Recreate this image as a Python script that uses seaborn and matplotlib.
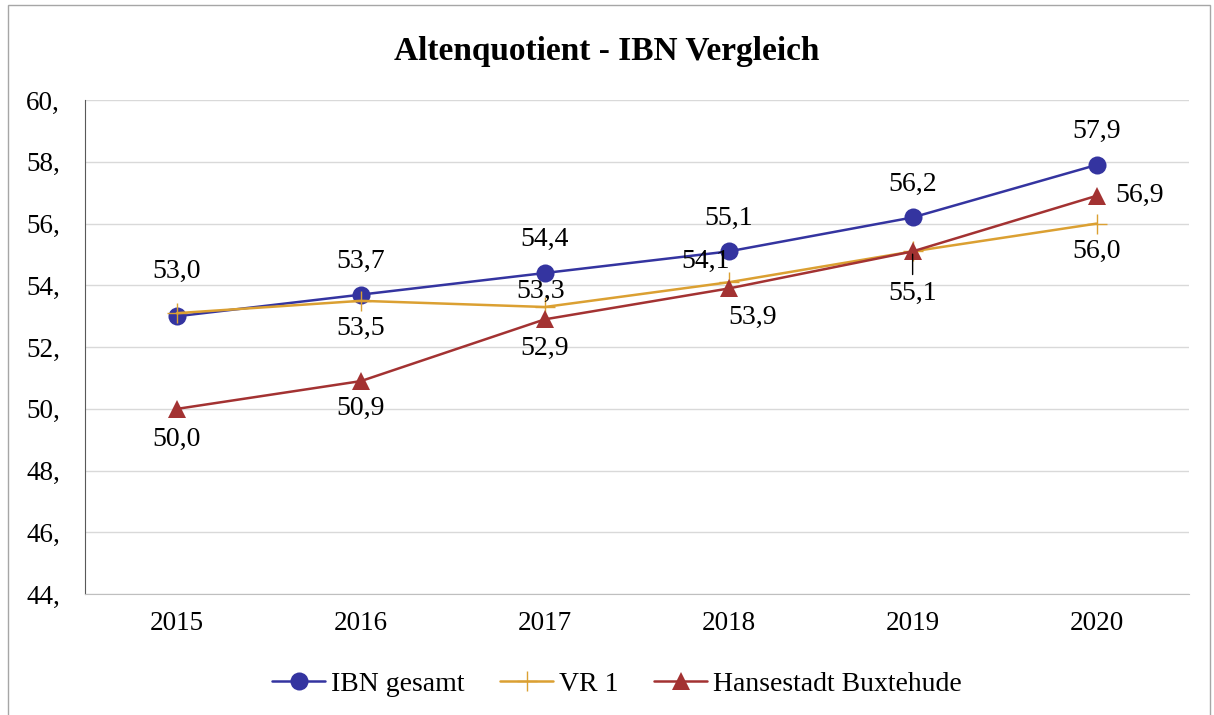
import pandas as pd
import numpy as np
import matplotlib.pyplot as plt
import seaborn as sns
from matplotlib.ticker import FuncFormatter, MultipleLocator
from matplotlib.patches import Rectangle

# ---------------- Data ----------------
years = [2015, 2016, 2017, 2018, 2019, 2020]
ibn_gesamt = [53.0, 53.7, 54.4, 55.1, 56.2, 57.9]
vr_1 = [53.1, 53.5, 53.3, 54.1, 55.1, 56.0]
buxtehude = [50.0, 50.9, 52.9, 53.9, 55.1, 56.9]
series_names = ["IBN gesamt", "VR 1", "Hansestadt Buxtehude"]

colors = {"IBN gesamt": "#3434a0", "VR 1": "#dba032", "Hansestadt Buxtehude": "#a33232"}
markers = {"IBN gesamt": "o", "VR 1": "+", "Hansestadt Buxtehude": "^"}

# label offsets (points) per series, None = label hidden
offsets = {
    "IBN gesamt": [(0, 32), (0, 24), (0, 24), (0, 24), (0, 24), (0, 24)],
    "VR 1": [None, (0, -20), (-3, 11), (-17, 15), None, (0, -20)],
    "Hansestadt Buxtehude": [(0, -22), (0, -20), (0, -21), (17, -21), (0, -30), (31, 0)],
}

# ---------------- Plot ----------------
sns.set_style("white")
plt.rcParams["font.family"] = ["Liberation Serif", "DejaVu Serif"]
plt.rcParams["text.color"] = "black"
plt.rcParams["xtick.color"] = "black"
plt.rcParams["ytick.color"] = "black"

fig = plt.figure(figsize=(12.14, 7.15), dpi=100)
ax = fig.add_axes([0.070, 0.169, 0.909, 0.691])

for name, vals in zip(series_names, [ibn_gesamt, vr_1, buxtehude]):
    df = pd.DataFrame({"Jahr": years, "Wert": vals})
    if markers[name] == "+":
        sns.lineplot(data=df, x="Jahr", y="Wert", color=colors[name], marker="+",
                     markersize=15, markeredgewidth=1.0, markeredgecolor=colors[name],
                     linewidth=1.8, label=name, ax=ax)
    else:
        sns.lineplot(data=df, x="Jahr", y="Wert", color=colors[name], marker=markers[name],
                     markersize=13, markeredgewidth=0, linewidth=1.8, label=name, ax=ax)

    for x, v, off in zip(years, vals, offsets[name]):
        if off is None:
            continue
        label = f"{v:.1f}".replace(".", ",")
        if name == "Hansestadt Buxtehude" and x == 2019:
            ax.annotate(label, (x, v), xytext=off, textcoords="offset points",
                        ha="center", va="center", fontsize=20,
                        arrowprops=dict(arrowstyle="-", color="black", lw=1,
                                        shrinkA=2, shrinkB=2))
        else:
            ax.annotate(label, (x, v), xytext=off, textcoords="offset points",
                        ha="center", va="center", fontsize=20)

ax.set_xlim(2014.5, 2020.5)
ax.set_ylim(44, 60)
ax.set_xticks(years)
ax.set_xticklabels([str(y) for y in years])
ax.yaxis.set_major_locator(MultipleLocator(2))
ax.yaxis.set_major_formatter(FuncFormatter(lambda v, p: f"{v:.0f},"))
ax.tick_params(axis="both", labelsize=19.5, length=0, pad=12)
ax.tick_params(axis="y", pad=18)
ax.grid(axis="y", color="#d9d9d9", linewidth=1)
ax.set_axisbelow(True)
ax.set_xlabel("")
ax.set_ylabel("")
for s in ["top", "right"]:
    ax.spines[s].set_visible(False)
ax.spines["left"].set_color("#595959")
ax.spines["bottom"].set_color("#bfbfbf")

handles, labels = ax.get_legend_handles_labels()
ax.legend(handles, labels, loc="center", bbox_to_anchor=(0.482, -0.182),
          ncol=3, frameon=False, fontsize=20, handlelength=1.9,
          columnspacing=1.3, handletextpad=0.2)

fig.suptitle("Altenquotient - IBN Vergleich", fontsize=24, fontweight="bold", y=0.95)

fig.patches.append(Rectangle((8 / 1214, -0.01), 1202 / 1214, 1.003,
                             transform=fig.transFigure, fill=False,
                             edgecolor="#a6a6a6", linewidth=1))

fig.savefig("out.png", dpi=100)
